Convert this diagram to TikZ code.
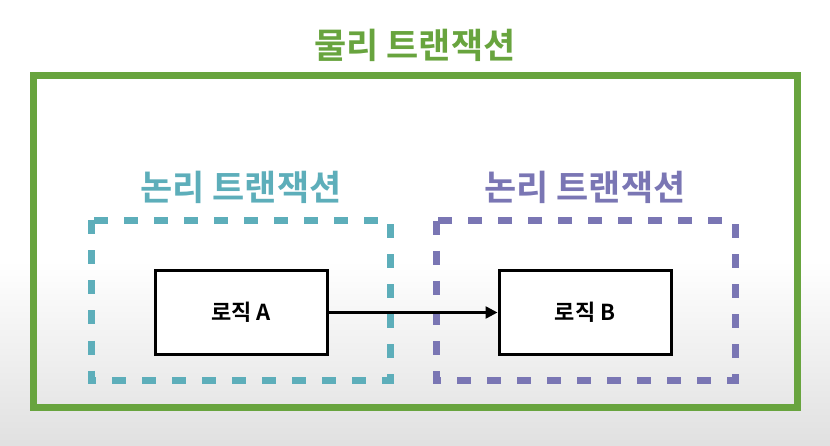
\documentclass[tikz,border=0pt]{standalone}
\usepackage{fontspec}
\newfontfamily\kr{Noto Sans CJK KR}[BoldFont={Noto Sans CJK KR Bold}]
\usetikzlibrary{arrows.meta}
\definecolor{grn}{RGB}{104,164,62}
\definecolor{teal2}{RGB}{93,174,186}
\definecolor{purp}{RGB}{122,118,180}
\tikzset{
  title/.style={font=\kr\bfseries\fontsize{35}{35}\selectfont, inner sep=0pt},
  grp/.style={line width=7pt, dash pattern=on 14pt off 16pt},
  logic/.style={draw=black, line width=3pt, minimum width=172pt, minimum height=84pt, inner sep=0pt, font=\kr\bfseries\fontsize{22}{22}\selectfont},
}
\begin{document}
\begin{tikzpicture}[x=1pt,y=-1pt]
\useasboundingbox (0,0) rectangle (830,446);
\fill[white] (0,0) rectangle (830,446);
\shade[top color=white, bottom color=black!12] (0,260) rectangle (830,446);
\draw[grn, line width=7pt] (33,75.5) rectangle (797,407.5);
\node[title, text=grn] (phys) at (415,45) {물리 트랜잭션};
\draw[grp, teal2] (91.5,220.5) rectangle (390,380);
\node[title, text=teal2] (l1) at (241,187) {논리 트랜잭션};
\draw[grp, purp] (436,221) rectangle (735,380);
\node[title, text=purp] (l2) at (585,187) {논리 트랜잭션};
\node[logic, fill=white] (a) at (241,312.5) {로직 A};
\node[logic, fill=white] (b) at (585,312.5) {로직 B};
\draw[line width=2.5pt, -{Triangle[length=12pt,width=12pt]}] (a.east) -- (b.west);
\end{tikzpicture}
\end{document}
